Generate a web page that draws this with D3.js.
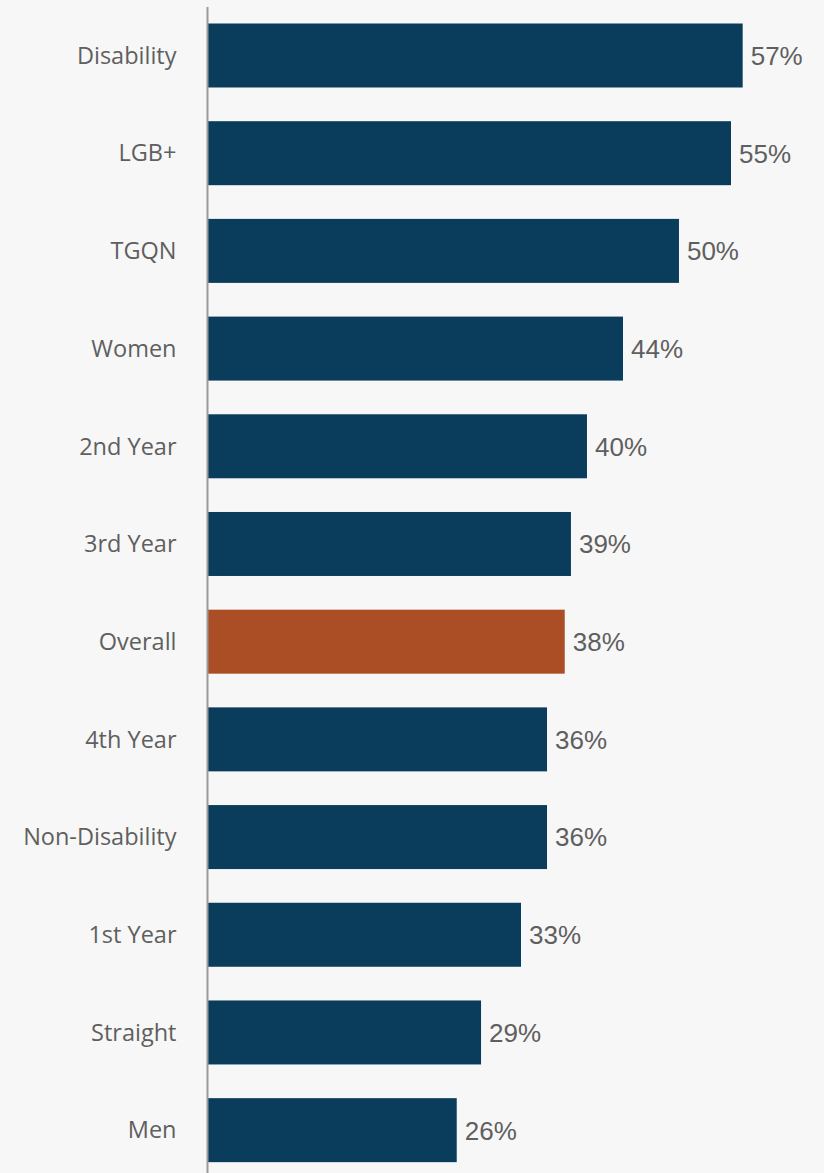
<!DOCTYPE html>
<html>
<head>
<meta charset="utf-8">
<script src="https://cdn.jsdelivr.net/npm/d3@7"></script>
<style>
  html, body { margin: 0; padding: 0; background: #f7f7f7; }
  svg { display: block; }
</style>
</head>
<body>
<svg id="chart" width="824" height="1173"></svg>
<script>
const categories = ["Disability", "LGB+", "TGQN", "Women", "2nd Year", "3rd Year", "Overall", "4th Year", "Non-Disability", "1st Year", "Straight", "Men"];
const values = [56.73, 55.49, 49.97, 44.03, 40.21, 38.51, 37.85, 35.97, 35.97, 33.21, 28.97, 26.39];
const highlight = ["Overall"];

const svg = d3.select("#chart");
const W = 824, H = 1173;
svg.append("rect").attr("width", W).attr("height", H).attr("fill", "#f7f7f7");

const x0 = 208;
const x = d3.scaleLinear().domain([0, 60]).range([x0, x0 + 565.5]);
const y = d3.scaleBand().domain(categories).range([-25.35, 1211.0]).paddingInner(0.345).paddingOuter(0.5);

const data = categories.map((c, i) => ({ c, v: values[i] }));

svg.append("g").selectAll("rect").data(data).join("rect")
  .attr("x", x(0))
  .attr("y", d => y(d.c))
  .attr("width", d => x(d.v) - x(0))
  .attr("height", y.bandwidth())
  .attr("fill", d => highlight.includes(d.c) ? "#ab4e26" : "#0a3c5c");

// axis line
const yAxis = d3.axisLeft(y).tickSize(0).tickPadding(31);
const ga = svg.append("g").attr("transform", `translate(${x0 - 0.5},0)`).call(yAxis);
ga.select(".domain").attr("d", `M0,7V${H}`).attr("stroke", "#9a9a9a").attr("stroke-width", 2);
ga.selectAll(".tick text")
  .attr("font-family", "'Open Sans', sans-serif")
  .attr("font-size", "23.5px")
  .attr("fill", "#5f5f5f")
  .attr("dy", "0.35em");

svg.append("g").selectAll("text").data(data).join("text")
  .attr("x", d => x(d.v) + 8)
  .attr("y", d => y(d.c) + y.bandwidth() / 2)
  .attr("dy", "0.36em")
  .attr("font-family", "'Liberation Sans', Arial, sans-serif")
  .attr("font-size", "26px")
  .attr("fill", "#5f5f5f")
  .text(d => Math.round(d.v) + "%");
</script>
</body>
</html>
